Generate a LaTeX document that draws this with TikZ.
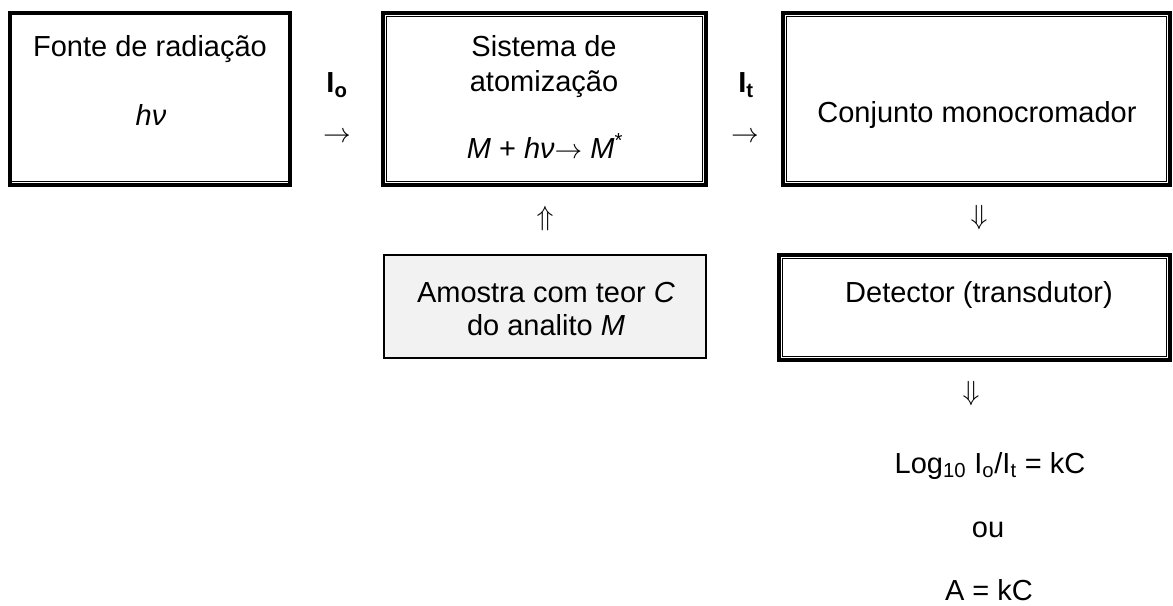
\documentclass[tikz,border=0pt]{standalone}
\usepackage{fontspec}
\setmainfont{Liberation Sans}
\usetikzlibrary{calc}
\begin{document}
\begin{tikzpicture}[x=0.75pt,y=-0.75pt,
  every node/.style={font=\fontsize{21.75pt}{26pt}\selectfont, inner sep=0pt},
  outerbox/.style={draw, line width=2.6pt, inner sep=0pt},
  innerline/.style={line width=0.8pt},
  graybox/.style={draw, line width=1.6pt, fill=black!5, inner sep=0pt},
  txt/.style={anchor=base},
  glyph/.style={anchor=center}]
\useasboundingbox (0,0) rectangle (1173,606);
% boxes
\node[outerbox, minimum width=210pt, minimum height=129pt] (fonte) at (150,99) {};
\node[outerbox, minimum width=242.25pt, minimum height=129pt] (sist) at (544.5,99) {};
\node[outerbox, minimum width=290.25pt, minimum height=129pt] (conj) at (976.5,99) {};
\node[graybox, minimum width=241.5pt, minimum height=77.25pt] (amostra) at (545,306.5) {};
\node[outerbox, minimum width=293.25pt, minimum height=78.75pt] (detector) at (974.5,307.5) {};
% inner thin lines (thick-thin borders)
\draw[innerline] ($(fonte.south west)+(0,-4.8)$) -- ($(fonte.south east)+(0,-4.8)$);
\draw[innerline] ($(sist.north west)+(4.8,4.8)$) rectangle ($(sist.south east)+(-4.8,-4.8)$);
\draw[innerline] ($(conj.north west)+(4.8,4.8)$) rectangle ($(conj.south east)+(-4.8,-4.8)$);
\draw[innerline] ($(detector.north west)+(4.8,4.8)$) rectangle ($(detector.south east)+(-4.8,-4.8)$);
% texts in boxes
\node[txt] (t1) at (150,57) {Fonte de radiação};
\node[txt] (t2) at (151,126) {\textit{h}\textit{ν}};
\node[txt] (t3) at (544,57) {Sistema de};
\node[txt] (t4) at (544,92) {atomização};
\node[txt] (t5) at (545,158) {\textit{M} + \textit{h}\textit{ν}$\rightarrow$ \textit{M}\textsuperscript{*}};
\node[txt] (t6) at (977,123) {Conjunto monocromador};
\node[txt] (t7) at (546,302) {Amostra com teor \textit{C}};
\node[txt] (t8) at (546,335) {do analito \textit{M}};
\node[txt] (t9) at (979,302) {Detector (transdutor)};
% labels between boxes
\node[txt] (io) at (337,93) {\textbf{I\textsubscript{o}}};
\node[txt] (it) at (746,93) {\textbf{I\textsubscript{t}}};
\node[glyph] (a1) at (337,137) {$\rightarrow$};
\node[glyph] (a2) at (745,137) {$\rightarrow$};
\node[glyph] (a3) at (545,219) {$\Uparrow$};
\node[glyph] (a4) at (979,218) {$\Downarrow$};
\node[glyph] (a5) at (971,394) {$\Downarrow$};
% result
\node[txt] (r1) at (990,473) {Log\textsubscript{10} I\textsubscript{o}/I\textsubscript{t} = kC};
\node[txt] (r2) at (988,537) {ou};
\node[txt] (r3) at (989,600) {A = kC};
\end{tikzpicture}
\end{document}
